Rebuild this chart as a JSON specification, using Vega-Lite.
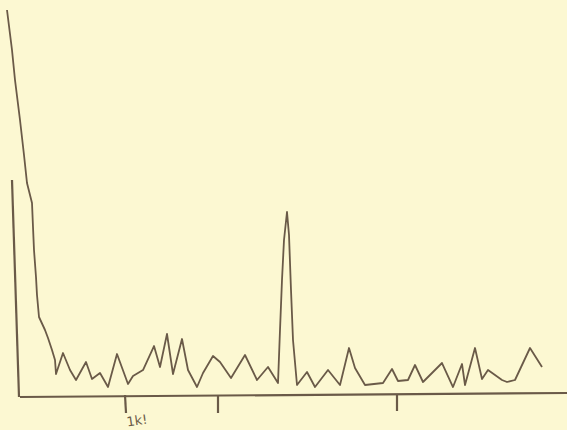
{
  "$schema": "https://vega.github.io/schema/vega-lite/v6.json",
  "width": 567,
  "height": 430,
  "autosize": {"type": "none"},
  "padding": 0,
  "background": "#fcf8d2",
  "config": {"view": {"stroke": null}},
  "datasets": {
    "curve": [
      {"x": 7, "y": 10}, {"x": 12, "y": 50}, {"x": 15, "y": 80}, {"x": 20, "y": 120},
      {"x": 24, "y": 155}, {"x": 27, "y": 183}, {"x": 32, "y": 203}, {"x": 33, "y": 227},
      {"x": 34, "y": 250}, {"x": 36, "y": 277}, {"x": 37, "y": 295}, {"x": 39, "y": 317},
      {"x": 45, "y": 330}, {"x": 48, "y": 338}, {"x": 52, "y": 350},
      {"x": 55, "y": 360}, {"x": 56, "y": 374}, {"x": 63, "y": 353},
      {"x": 70, "y": 370}, {"x": 76, "y": 380}, {"x": 86, "y": 362}, {"x": 92, "y": 379},
      {"x": 100, "y": 373}, {"x": 108, "y": 387}, {"x": 117, "y": 354}, {"x": 128, "y": 384},
      {"x": 133, "y": 376}, {"x": 143, "y": 370}, {"x": 154, "y": 346}, {"x": 160, "y": 367},
      {"x": 167, "y": 334}, {"x": 173, "y": 374}, {"x": 182, "y": 339}, {"x": 188, "y": 370},
      {"x": 197, "y": 387}, {"x": 203, "y": 373}, {"x": 213, "y": 356}, {"x": 220, "y": 362},
      {"x": 231, "y": 378}, {"x": 245, "y": 355}, {"x": 257, "y": 380}, {"x": 268, "y": 367},
      {"x": 278, "y": 383}, {"x": 280, "y": 330}, {"x": 282, "y": 280}, {"x": 284, "y": 240},
      {"x": 287, "y": 212}, {"x": 289, "y": 235}, {"x": 291, "y": 290}, {"x": 293, "y": 340},
      {"x": 297, "y": 385}, {"x": 307, "y": 372}, {"x": 315, "y": 387}, {"x": 328, "y": 370},
      {"x": 340, "y": 385}, {"x": 349, "y": 348}, {"x": 355, "y": 368}, {"x": 365, "y": 385},
      {"x": 383, "y": 383}, {"x": 392, "y": 369}, {"x": 398, "y": 381}, {"x": 408, "y": 380},
      {"x": 415, "y": 365}, {"x": 423, "y": 382}, {"x": 442, "y": 363}, {"x": 453, "y": 387},
      {"x": 462, "y": 364}, {"x": 465, "y": 385}, {"x": 475, "y": 348}, {"x": 482, "y": 379},
      {"x": 488, "y": 370}, {"x": 502, "y": 380}, {"x": 507, "y": 382}, {"x": 515, "y": 380},
      {"x": 530, "y": 348}, {"x": 542, "y": 367}
    ],
    "frame": [
      {"part": "yaxis", "i": 1, "x": 12, "y": 180}, {"part": "yaxis", "i": 2, "x": 19, "y": 397},
      {"part": "xaxis", "i": 1, "x": 20, "y": 397}, {"part": "xaxis", "i": 2, "x": 567, "y": 393},
      {"part": "t1", "i": 1, "x": 125, "y": 395}, {"part": "t1", "i": 2, "x": 126, "y": 413},
      {"part": "t2", "i": 1, "x": 218, "y": 396}, {"part": "t2", "i": 2, "x": 218, "y": 413},
      {"part": "t3", "i": 1, "x": 397, "y": 394}, {"part": "t3", "i": 2, "x": 397, "y": 411}
    ],
    "labels": [{"x": 137, "y": 421, "t": "1k!"}]
  },
  "encoding": {
    "x": {"field": "x", "type": "quantitative", "scale": {"domain": [0, 567], "zero": false, "nice": false}, "axis": null},
    "y": {"field": "y", "type": "quantitative", "scale": {"domain": [0, 430], "reverse": true, "zero": false, "nice": false}, "axis": null}
  },
  "layer": [
    {
      "data": {"name": "frame"},
      "mark": {"type": "line", "color": "#6a5a48", "strokeWidth": 2.2},
      "encoding": {"detail": {"field": "part"}, "order": {"field": "i"}}
    },
    {
      "data": {"name": "curve"},
      "mark": {"type": "line", "color": "#6a5a48", "strokeWidth": 1.8, "strokeJoin": "round"},
      "encoding": {"order": {"field": "x"}}
    },
    {
      "data": {"name": "labels"},
      "mark": {"type": "text", "color": "#6a5a48", "fontSize": 13, "font": "DejaVu Sans", "angle": -8},
      "encoding": {"text": {"field": "t"}}
    }
  ]
}
